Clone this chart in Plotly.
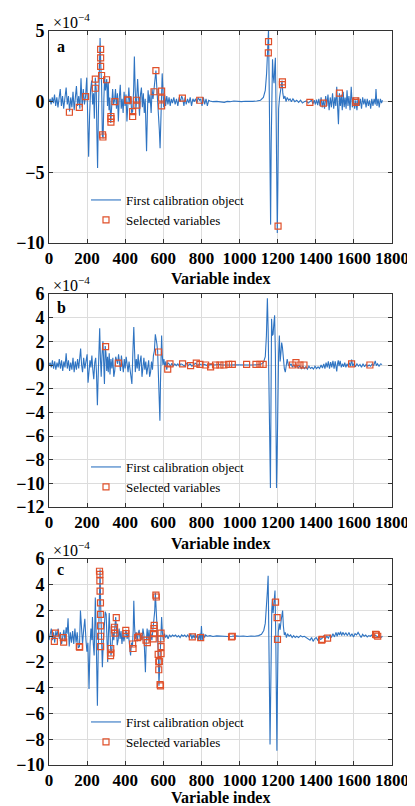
import plotly.graph_objects as go

# ---------------- data (values in units of 1e-4) ----------------
a_idx = [0,6,11,17,23,29,35,41,47,53,59,65,71,77,83,90,96,102,108,114,120,126,132,138,144,150,156,162,168,174,180,186,192,198,203,208,213,218,224,229,234,238,243,248,251,255,259,263,268,272,276,280,284,288,292,296,300,303,307,311,315,319,324,329,334,339,344,349,354,359,364,369,374,379,384,389,394,399,404,409,414,419,424,429,434,439,444,448,452,456,460,465,470,475,480,485,490,495,500,505,509,512,516,520,525,530,536,541,546,551,556,561,565,570,575,579,583,587,591,594,598,602,607,612,618,624,630,636,642,648,655,662,669,676,683,690,696,702,708,714,720,727,734,741,748,755,762,769,776,783,790,796,803,810,817,824,831,838,845,860,880,900,920,935,950,970,990,1010,1030,1050,1070,1090,1110,1125,1135,1142,1148,1152,1156,1160,1163,1166,1170,1173,1177,1181,1185,1188,1192,1195,1198,1201,1205,1210,1215,1219,1223,1227,1232,1238,1244,1250,1258,1265,1272,1280,1290,1300,1310,1320,1330,1340,1350,1360,1370,1378,1385,1392,1398,1404,1410,1416,1422,1428,1434,1440,1446,1452,1458,1464,1470,1476,1482,1488,1494,1500,1505,1510,1515,1519,1524,1529,1534,1539,1544,1549,1554,1559,1564,1569,1574,1580,1586,1592,1598,1604,1610,1616,1622,1628,1634,1640,1646,1652,1658,1664,1670,1676,1682,1688,1694,1700,1706,1712,1716,1721,1727,1733,1739,1745,1750]
a_val = [0.0,0.2,-0.2,0.3,-0.1,0.5,-0.3,0.3,-0.4,0.2,0.9,-0.3,0.4,-0.5,0.2,1.0,-0.2,0.4,-0.7,0.3,-0.4,0.7,-0.6,0.5,1.1,-0.3,0.4,-0.5,1.65,-0.4,0.9,-0.2,0.4,1.7,-0.5,-3.9,-1.0,0.8,1.5,-0.2,0.6,-1.2,1.7,0.8,-2.0,-4.7,-1.0,2.0,4.5,2.5,1.2,-2.4,-2.6,0.2,1.8,0.8,1.2,1.6,-0.3,1.4,-0.6,0.3,-1.5,-0.4,0.9,-0.2,0.1,0.9,-0.5,0.6,-1.4,0.3,1.2,-0.5,0.2,-0.8,0.7,-0.3,0.5,-1.4,0.1,1.0,-0.2,0.4,-0.8,-0.7,0.8,3.2,1.0,-0.5,0.1,1.6,0.3,-1.0,0.5,1.0,-0.4,0.6,-0.8,0.2,-2.0,-3.5,-1.0,0.8,-0.1,0.5,-0.8,0.9,0.2,0.8,1.5,2.2,1.2,0.2,-0.8,-2.0,-3.3,-0.5,0.8,2.0,0.9,-0.4,0.5,-0.3,0.4,-0.2,0.3,-0.3,0.2,-0.1,0.3,-0.2,0.2,-0.3,0.3,0.0,0.4,0.2,-0.3,0.3,-0.2,0.2,-0.1,0.3,-0.3,0.2,0.0,0.2,-0.1,0.3,0.1,0.2,-0.3,0.3,-0.2,0.2,-0.3,0.1,0.05,0.0,0.02,0.0,-0.05,0.02,0.0,0.05,0.0,0.0,0.03,0.0,0.02,0.05,0.1,0.3,0.8,2.0,4.0,5.1,0.5,-5.0,-8.7,-3.0,2.0,3.0,1.8,1.3,2.5,3.1,-1.0,-6.0,-9.3,-6.0,-0.5,0.3,0.8,1.4,1.5,0.6,0.2,0.4,0.0,0.3,0.1,0.2,0.0,0.2,0.0,0.1,-0.05,0.1,-0.1,0.0,0.05,-0.1,0.0,0.1,-0.15,0.1,-0.2,0.15,-0.25,0.2,-0.3,0.3,-0.4,0.1,-0.5,0.4,-0.3,0.5,-0.6,0.3,-0.4,0.6,-0.5,0.3,-0.3,1.05,-0.5,-1.6,0.6,-0.3,0.5,-0.6,0.7,-0.4,0.3,-0.5,0.8,-0.3,0.4,-0.6,1.05,-0.4,0.3,-0.5,0.1,-0.6,0.3,-0.3,0.2,-0.5,0.3,-0.2,0.2,-0.4,0.2,-0.3,0.1,-0.5,0.2,-0.3,0.2,-0.2,0.9,-0.3,0.2,-0.4,0.2,-0.1,0.1]
a_sel_idx = [107,159,192,243,243,271,271,271,276,281,283,302,325,325,325,346,413,415,439,439,460,461,551,561,591,591,591,700,791,1152,1151,1202,1225,1225,1369,1440,1524,1610,1610]
a_sel_val = [-0.75,-0.4,0.35,1.6,0.95,3.7,3.1,2.5,1.85,-2.35,-2.5,1.55,-1.05,-1.2,-1.45,0.0,0.12,0.1,-0.7,-1.05,0.1,-0.25,0.7,2.2,0.75,0.25,-0.3,0.25,0.1,4.25,3.45,-8.8,1.4,1.2,-0.05,-0.1,0.6,0.05,-0.05]

b_idx = [0,6,12,18,24,30,36,42,48,54,60,66,72,78,84,90,96,102,108,114,120,126,132,138,144,150,156,162,166,171,176,182,188,194,200,205,210,215,220,225,230,235,240,245,249,254,258,262,266,270,274,278,283,287,291,295,299,303,307,311,316,320,325,330,335,340,345,350,355,360,365,370,375,380,385,390,395,400,405,410,415,420,425,430,435,440,445,449,453,458,463,468,473,478,483,488,493,498,503,508,513,518,523,528,533,538,543,548,553,558,562,566,570,574,578,582,585,588,591,594,598,603,608,613,618,623,630,637,645,652,660,668,676,684,692,700,710,720,730,740,750,760,770,780,790,800,815,830,850,870,890,910,930,950,970,1000,1030,1060,1090,1110,1125,1135,1141,1146,1150,1155,1159,1162,1165,1168,1172,1176,1180,1184,1188,1191,1194,1197,1200,1205,1209,1213,1217,1221,1225,1230,1235,1240,1245,1250,1256,1262,1270,1278,1285,1292,1300,1308,1316,1324,1332,1340,1348,1356,1364,1372,1380,1388,1396,1404,1412,1420,1428,1435,1442,1448,1454,1460,1466,1472,1478,1484,1490,1496,1502,1506,1510,1514,1518,1522,1528,1534,1540,1546,1552,1558,1564,1570,1576,1582,1588,1594,1600,1608,1616,1624,1632,1640,1648,1656,1664,1672,1680,1688,1696,1704,1712,1718,1724,1732,1740,1748]
b_val = [0.0,0.2,-0.2,0.4,-0.3,0.3,-0.4,0.2,-0.2,0.5,-0.3,0.4,-0.5,0.3,-0.2,1.0,-0.3,0.4,-0.5,0.2,-0.4,0.6,-0.6,0.3,-0.4,0.5,-0.3,0.8,1.4,0.0,-0.6,0.6,-0.3,0.3,0.9,-1.5,-0.3,0.4,-0.2,0.8,-0.4,-1.2,0.2,0.6,-0.6,-3.4,-1.0,1.0,3.1,0.5,-1.0,0.8,2.0,0.2,-1.6,1.6,1.0,-0.5,0.7,-0.6,1.0,-0.8,0.5,-0.3,0.6,-1.0,-0.5,0.7,0.2,0.1,0.9,0.3,-0.5,0.8,0.2,-0.6,0.5,-0.3,0.7,0.0,-0.6,0.3,-0.5,-1.0,-1.6,1.0,3.2,1.2,-0.6,0.5,-0.3,0.9,-0.5,0.3,0.8,-1.0,0.2,0.6,-0.4,0.3,-0.8,0.1,0.4,-1.0,-0.6,0.3,-0.4,0.8,1.2,2.6,2.3,1.8,1.2,-0.5,-2.0,-4.7,-1.5,1.5,2.5,1.0,0.0,0.5,-0.2,0.3,-0.4,0.2,0.1,-0.1,0.15,-0.1,0.1,-0.05,0.1,-0.1,0.1,0.05,-0.1,0.15,-0.05,0.1,-0.1,0.05,0.15,-0.05,0.1,0.0,0.05,-0.05,0.05,0.0,0.05,0.0,0.03,0.0,0.02,0.0,0.02,0.0,0.02,0.05,0.2,0.7,2.5,5.65,3.0,-3.0,-8.0,-10.4,-3.0,3.9,2.5,2.6,3.5,4.2,1.0,-5.0,-10.4,-8.0,-2.0,1.0,2.5,0.3,1.0,1.9,1.5,0.3,-0.3,-0.6,0.0,0.5,0.0,-0.1,0.1,-0.2,0.05,-0.2,0.0,-0.25,-0.05,-0.3,-0.1,-0.3,-0.15,-0.35,-0.1,-0.3,-0.2,-0.35,-0.1,-0.3,-0.15,-0.3,0.0,-0.25,0.1,-0.3,0.2,-0.2,0.3,-0.3,0.25,-0.2,0.35,-0.3,0.3,-0.2,-0.55,0.1,0.4,-0.1,0.35,-0.2,0.1,-0.15,0.2,-0.2,0.1,-0.1,0.2,-0.1,0.45,-0.1,0.1,-0.15,0.1,-0.1,0.05,-0.2,0.1,-0.15,0.05,-0.1,0.0,-0.1,0.1,-0.05,0.35,-0.05,0.1,-0.1,0.1,0.05]
b_sel_idx = [297,364,575,623,635,701,743,773,792,822,848,874,897,918,943,962,1037,1086,1107,1124,1277,1296,1317,1338,1588,1684]
b_sel_val = [1.55,0.15,1.1,-0.35,0.1,0.1,-0.05,0.15,0.05,0.0,-0.15,0.0,0.0,0.0,0.05,0.05,0.05,0.05,0.05,0.05,0.0,0.2,0.0,0.0,0.1,0.0]

c_idx = [0,6,12,18,24,30,36,42,48,54,60,66,72,78,84,90,95,100,106,112,118,124,130,136,142,148,154,160,165,170,176,182,188,194,199,204,210,215,220,225,228,232,237,240,243,247,250,254,258,262,266,268,271,275,280,285,290,295,300,304,308,312,316,320,325,330,335,340,345,350,354,358,363,368,373,378,383,388,393,398,404,410,416,422,428,433,438,442,445,449,453,458,463,468,473,478,483,488,493,498,501,506,510,515,520,525,530,535,540,545,550,555,558,562,566,570,574,577,581,585,588,591,595,600,606,612,618,625,632,640,648,656,664,672,680,688,696,704,712,720,728,736,744,750,756,762,768,774,780,786,792,796,800,804,810,816,822,830,845,860,880,900,920,940,960,980,1000,1020,1040,1060,1080,1100,1115,1127,1135,1141,1146,1150,1153,1156,1160,1163,1166,1169,1172,1176,1180,1183,1186,1190,1193,1196,1199,1203,1208,1213,1218,1223,1226,1230,1235,1240,1246,1252,1260,1268,1276,1284,1292,1300,1310,1320,1330,1340,1350,1360,1370,1378,1386,1394,1402,1410,1418,1426,1434,1442,1450,1458,1466,1474,1482,1490,1498,1506,1512,1518,1524,1530,1536,1542,1550,1558,1566,1574,1582,1590,1598,1606,1614,1622,1630,1638,1646,1654,1662,1670,1678,1686,1694,1702,1710,1718,1726,1734,1742,1750]
c_val = [-0.3,0.1,0.6,-0.3,0.3,-0.5,0.4,0.0,0.6,-0.2,0.3,-0.6,0.2,0.5,-0.4,0.7,0.2,1.4,-0.8,0.3,-0.5,0.4,-0.6,0.6,-0.5,0.3,-0.9,-0.8,2.0,0.2,-0.6,0.5,1.35,-0.3,-1.2,-0.5,-4.1,-0.8,0.6,-0.3,1.5,-0.5,-1.5,0.5,3.0,0.5,-2.0,-5.4,-1.5,1.5,4.0,5.2,2.5,-0.8,-2.4,-0.5,1.0,1.9,1.7,-0.3,-2.0,0.2,1.8,0.3,-1.5,-1.0,0.3,-0.3,0.8,1.5,0.6,-0.7,-0.3,0.6,-0.2,0.4,-0.6,0.3,-0.4,0.2,0.5,-0.2,0.3,-0.6,-1.5,-0.5,-0.8,0.5,2.75,0.8,-0.2,0.3,-0.4,0.2,0.5,-0.2,0.1,-0.3,0.6,0.1,-1.0,-2.8,-0.5,0.6,-0.3,0.5,-0.5,0.2,-0.3,0.6,1.0,2.0,3.4,2.5,1.0,-0.2,-1.5,-3.85,-2.5,-0.5,0.8,1.5,0.3,-0.3,0.2,-0.1,0.1,-0.2,0.1,-0.05,0.1,0.0,0.1,-0.05,0.05,-0.1,0.1,0.0,0.1,-0.05,0.1,-0.1,0.2,-0.2,0.1,-0.15,0.2,-0.1,0.1,-0.3,0.2,-0.3,0.8,-0.3,0.2,-0.1,0.1,0.0,0.05,-0.02,0.03,0.0,0.02,-0.02,0.0,0.03,0.0,0.02,-0.02,0.02,0.0,0.05,0.15,0.45,1.0,2.1,3.5,4.7,2.0,-3.0,-8.4,-3.0,0.5,2.0,2.9,1.8,2.5,3.2,3.55,0.0,-5.0,-8.9,-4.0,0.3,1.0,0.5,1.2,1.8,2.0,0.8,0.1,0.3,-0.1,0.2,0.0,0.1,-0.1,0.05,-0.1,0.0,-0.1,0.05,-0.05,0.0,-0.1,-0.15,-0.3,-0.1,-0.4,-0.2,-0.1,-0.3,-0.1,-0.25,-0.15,0.05,-0.2,0.0,-0.15,0.1,-0.1,0.2,-0.05,0.3,0.0,0.3,0.1,0.35,0.05,0.3,0.1,0.25,0.05,0.3,0.0,0.2,-0.05,0.2,0.1,0.3,0.05,-0.1,0.15,0.0,0.1,-0.05,0.05,0.0,0.1,-0.05,0.1,0.05,-0.05,0.05,-0.1,0.0]
c_sel_idx = [28,34,75,77,159,161,265,267,267,268,270,270,270,271,271,324,325,323,343,344,346,353,403,404,439,441,465,472,509,516,547,549,551,552,561,563,573,576,576,579,583,585,588,588,588,588,752,796,958,962,1189,1197,1199,1431,1433,1462,1714,1718,1725]
c_sel_val = [-0.4,0.25,-0.1,-0.45,-0.8,-0.85,5.05,4.8,4.3,3.5,2.6,1.7,0.8,0.0,-0.8,-0.95,-1.3,-1.5,0.5,0.7,0.25,1.45,0.45,0.2,-0.6,-0.95,-0.1,0.0,-0.3,-0.5,-0.2,0.2,0.6,0.85,3.2,3.05,-1.4,-2.0,-2.6,-1.95,-3.75,-3.85,0.25,-0.2,-0.8,-1.35,-0.05,-0.1,-0.05,0.0,2.65,1.45,-0.25,-0.3,-0.25,-0.15,0.15,0.1,0.0]

panel_labels = ["a", "b", "c"]
y_ranges = [[-10, 5], [-12, 6], [-10, 6]]
y_dticks = [5, 2, 2]
x_ticks = [0, 200, 400, 600, 800, 1000, 1200, 1400, 1600, 1800]
line_name = "First calibration object"
sel_name = "Selected variables"
x_title = "Variable index"

# ---------------- layout geometry ----------------
# positions below are page pixels; the page body adds an 8px offset, so the
# figure is sized to the remaining area and every position is shifted by OFF.
OFF = 8
W, H = 415 - OFF, 806 - OFF
L, R = 49, 392
tops = [31, 294, 559]
bots = [243, 507, 765]
xtitle_y = [278, 543, 797]
label_y = [46, 307, 569]
leg_top = [185, 452, 707]
leg_left = 86

LINE_C = "#2F74C2"
MARK_C = "#E0502A"
FONT = "Liberation Serif"

def px_x(p):
    return (p - OFF) / W

def px_y(p):
    return 1 - (p - OFF) / H

fig = go.Figure()
data = [(a_idx, a_val, a_sel_idx, a_sel_val),
        (b_idx, b_val, b_sel_idx, b_sel_val),
        (c_idx, c_val, c_sel_idx, c_sel_val)]

layout = dict(width=W, height=H, margin=dict(l=0, r=0, t=0, b=0, autoexpand=False),
              paper_bgcolor="white", plot_bgcolor="white", showlegend=True)
annotations = []
for i, (xi, yi, sx, sy) in enumerate(data):
    n = "" if i == 0 else str(i + 1)
    leg = "legend" + n
    fig.add_trace(go.Scatter(x=xi, y=yi, mode="lines", name=line_name,
                             line=dict(color=LINE_C, width=1.1),
                             xaxis="x" + n, yaxis="y" + n, legend=leg))
    fig.add_trace(go.Scatter(x=sx, y=sy, mode="markers", name=sel_name,
                             marker=dict(symbol="square-open", size=6,
                                         color=MARK_C, line=dict(width=1.2, color=MARK_C)),
                             xaxis="x" + n, yaxis="y" + n, legend=leg))
    layout["xaxis" + n] = dict(domain=[px_x(L), px_x(R)], range=[0, 1800],
                               tickvals=x_ticks, anchor="y" + n, tickangle=0,
                               automargin=False,
                               showgrid=True, gridcolor="#DCDCDC", gridwidth=1,
                               zeroline=False, showline=True, linecolor="#333",
                               linewidth=1, mirror="ticks", ticks="inside",
                               ticklen=4, tickcolor="#333",
                               ticklabelstandoff=0,
                               tickfont=dict(family=FONT, size=17, color="black", weight="bold"))
    layout["yaxis" + n] = dict(domain=[px_y(bots[i]), px_y(tops[i])], range=y_ranges[i],
                               dtick=y_dticks[i], tick0=0, anchor="x" + n,
                               automargin=False,
                               showgrid=True, gridcolor="#DCDCDC", gridwidth=1,
                               zeroline=False, showline=True, linecolor="#333",
                               linewidth=1, mirror="ticks", ticks="inside",
                               ticklen=4, tickcolor="#333",
                               ticklabelstandoff=0,
                               tickfont=dict(family=FONT, size=18, color="black", weight="bold"))
    layout[leg] = dict(x=px_x(leg_left), y=px_y(leg_top[i]), xanchor="left", yanchor="top",
                       bgcolor="rgba(0,0,0,0)", borderwidth=0,
                       font=dict(family=FONT, size=13, color="black"),
                       itemwidth=30, tracegroupgap=0)
    annotations.append(dict(text=x_title, x=px_x((L + R) / 2), y=px_y(xtitle_y[i]),
                            xref="paper", yref="paper", showarrow=False,
                            xanchor="center", yanchor="middle",
                            font=dict(family=FONT, size=16, color="black", weight="bold")))
    annotations.append(dict(text="×10<sup>−4</sup>", x=px_x(51), y=px_y(tops[i] - 10),
                            xref="paper", yref="paper", showarrow=False,
                            xanchor="left", yanchor="middle",
                            font=dict(family=FONT, size=16, color="black")))
    annotations.append(dict(text="<b>" + panel_labels[i] + "</b>", x=px_x(55), y=px_y(label_y[i]),
                            xref="paper", yref="paper", showarrow=False,
                            xanchor="left", yanchor="middle",
                            font=dict(family=FONT, size=16, color="black")))

layout["annotations"] = annotations
fig.update_layout(**layout)
fig.write_html("out.html")
